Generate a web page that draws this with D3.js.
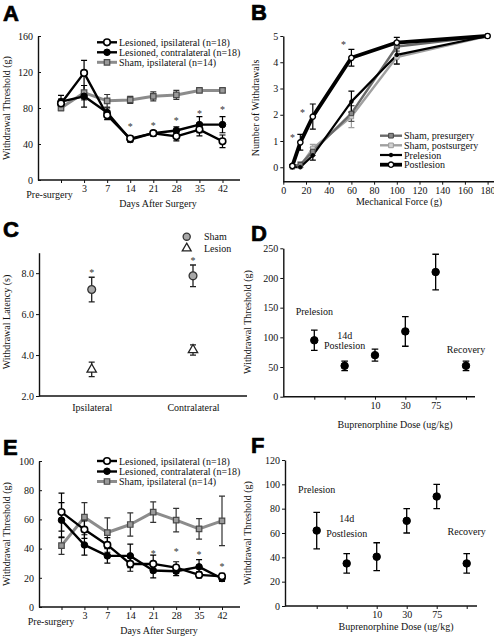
<!DOCTYPE html>
<html><head><meta charset="utf-8">
<script src="https://cdn.jsdelivr.net/npm/d3@7"></script>
<style>
body{margin:0;background:#fff}
svg{display:block}
</style></head><body>
<svg id="c" width="494" height="636"></svg>
<script>
// ---------- DATA ----------
const days = ["Pre-surgery","3","7","14","21","28","35","42"];
const dayIdx = [0,1,2,3,4,5,6,7];
// Panel A
const aIpsi = [85,119,72,46,52,48.5,56,43];
const aIpsiErr = [5,14,5,3,3,5,7,7];
const aContra = [87,93,75,45,52,55,61.5,61.5];
const aContraErr = [7,12,5,3,3,4,9,9];
const aSham = [80,97,88,89,93,94.5,99.5,99.5];
const aShamErr = [3,8,7,4,5,5,2,2];
const aStarIdx = [3,4,5,6,7];
const aStarVal = [61,62,68,76,80];
const aTicks = [0,40,80,120,160];
// Panel B
const force = [8,15,26,60,100,180];
const bShamPre = [0.05,0.1,0.6,2.05,4.6,5.0];
const bShamPreErr = [0.05,0.1,0.15,0.3,0.2,0];
const bShamPost = [0,0.05,0.72,1.93,4.2,5.0];
const bShamPostErr = [0,0.05,0.15,0.42,0.25,0];
const bPre = [0,0,0.45,2.5,4.28,5.0];
const bPreErr = [0,0,0.18,0.4,0.35,0];
const bPost = [0.05,0.95,1.93,4.17,4.75,5.0];
const bPostErr = [0.05,0.3,0.48,0.32,0.2,0];
const bStarForce = [8,17,53];
const bStarVal = [1.2,2.15,4.74];
const bXTicks = [0,20,40,60,80,100,120,140,160,180];
const bYTicks = [0,1,2,3,4,5];
// Panel C
const cCats = ["Ipsilateral","Contralateral"];
const cSham = [7.2,7.87];
const cShamErr = [0.6,0.53];
const cLesion = [3.3,4.25];
const cLesionErr = [0.35,0.25];
const cStarVal = [8.13,8.68];
const cTicks = [2,4,6,8];
// Panel D
const doseLabels = ["","","10","30","75",""];
const dVals = [95,52,70,110,210,52];
const dErr = [17,8,10,25,30,8];
const dTicks = [0,50,100,150,200,250];
const dNotes = ["Prelesion","14d","Postlesion","Recovery"];
const dNoteIdx = [0,1,1,5];
const dNoteVal = [137,97,81,73];
// Panel E
const eIpsi = [65,53,42.5,29.5,29.5,27,22,21];
const eIpsiErr = [13,6,5,5,6,4,2,2];
const eContra = [59.5,42.5,35,35,25,24.5,27.5,19.5];
const eContraErr = [12,7,5,8,5,3,5,2];
const eSham = [42,61.5,51,56.5,65,59.5,53.5,59];
const eShamErr = [6,10,10,8,7,8,7,17];
const eStarIdx = [4,5,6,7];
const eStarVal = [38,39,37,29];
const eTicks = [0,20,40,60,80,100];
// Panel F
const fVals = [62,35,40.5,70,90,35];
const fErr = [15,8,11.5,10,10,8];
const fTicks = [0,20,40,60,80,100,120];
const fNoteVal = [93,69,56.5,58];
// legends
const legAB = ["Lesioned, ipsilateral (n=18)","Lesioned, contralateral (n=18)","Sham, ipsilateral (n=14)"];
const legB = ["Sham, presurgery","Sham, postsurgery","Prelesion","Postlesion"];
const legC = ["Sham","Lesion"];

// ---------- HELPERS ----------
const SERIF = "Liberation Serif";
const SANS = "Liberation Sans";
const svg = d3.select("#c");

function styleAxis(s){
  s.attr("font-family",SERIF).attr("font-size",10);
  s.selectAll("text").attr("fill","#111").attr("font-family",SERIF);
  s.selectAll(".tick line").attr("stroke","#111").attr("stroke-width",1);
  s.select(".domain").attr("stroke","#111").attr("stroke-width",1.4);
}
function leftAxis(scale,x,ticks,size,fmt){
  const ax = d3.axisLeft(scale).tickValues(ticks).tickSize(size).tickSizeOuter(0).tickPadding(size<0?5:2);
  if(fmt) ax.tickFormat(fmt);
  const s = svg.append("g").attr("transform",`translate(${x},0)`).call(ax);
  styleAxis(s); return s;
}
function bottomAxis(scale,y,ticks,fmt,x0,x1,size=3,pad=2){
  const s = svg.append("g").attr("transform",`translate(0,${y})`)
    .call(d3.axisBottom(scale).tickValues(ticks).tickFormat(fmt).tickSize(size).tickSizeOuter(0).tickPadding(pad));
  s.select(".domain").remove();
  styleAxis(s);
  s.append("line").attr("x1",x0).attr("x2",x1).attr("y1",0).attr("y2",0)
    .attr("stroke","#111").attr("stroke-width",1.4);
  return s;
}
function line(xs,ys,xS,yS,color,w,dash){
  svg.append("path").datum(d3.range(xs.length))
    .attr("d",d3.line().x(i=>xS(xs[i])).y(i=>yS(ys[i])))
    .attr("fill","none").attr("stroke",color).attr("stroke-width",w)
    .attr("stroke-linejoin","round").attr("stroke-dasharray",dash||null);
}
function errs(xs,ys,es,xS,yS,color,w,cap){
  svg.append("g").selectAll("path").data(d3.range(xs.length).filter(i=>es[i]>0)).join("path")
    .attr("d",i=>{const x=xS(xs[i]),a=yS(ys[i]+es[i]),b=yS(ys[i]-es[i]);
      return `M${x},${a}V${b}M${x-cap},${a}H${x+cap}M${x-cap},${b}H${x+cap}`;})
    .attr("fill","none").attr("stroke",color).attr("stroke-width",w);
}
function marks(xs,ys,xS,yS,shape,size,fill,stroke,sw){
  const sym = shape==="circle"?d3.symbolCircle:shape==="square"?d3.symbolSquare:d3.symbolTriangle;
  svg.append("g").selectAll("path").data(d3.range(xs.length)).join("path")
    .attr("transform",i=>`translate(${xS(xs[i])},${yS(ys[i])})`)
    .attr("d",d3.symbol(sym,size))
    .attr("fill",fill).attr("stroke",stroke).attr("stroke-width",sw);
}
function stars(xs,ys,xS,yS){
  svg.append("g").selectAll("text").data(d3.range(xs.length)).join("text")
    .attr("x",i=>xS(xs[i])).attr("y",i=>yS(ys[i])+5)
    .attr("text-anchor","middle").attr("font-family",SERIF).attr("font-size",10)
    .attr("fill","#333").text("*");
}
function txt(x,y,t,opt={}){
  const e = svg.append("text").attr("x",x).attr("y",y).text(t)
    .attr("font-family",opt.font||SERIF).attr("font-size",opt.size||10)
    .attr("text-anchor",opt.anchor||"start").attr("fill",opt.fill||"#111");
  return e;
}
function ytitle(x,y,t){
  svg.append("text").attr("transform",`translate(${x},${y}) rotate(-90)`)
    .attr("text-anchor","middle").attr("font-family",SERIF).attr("font-size",10)
    .attr("fill","#111").text(t);
}
function letter(x,y,t){
  svg.append("text").attr("x",x).attr("y",y).text(t).attr("font-family",SANS)
    .attr("font-weight","bold").attr("font-size",22).attr("fill","#000")
    .attr("stroke","#000").attr("stroke-width",0.7);
}
const GREY="#8c8c8c", SQF="#9a9a9a", SQS="#4a4a4a";

function timeCourse(xS,yS,ipsi,ipsiE,contra,contraE,sham,shamE,legY){
  line(dayIdx,sham,xS,yS,GREY,3);
  errs(dayIdx,sham,shamE,xS,yS,"#333",1.2,3);
  line(dayIdx,contra,xS,yS,"#000",2.4);
  errs(dayIdx,contra,contraE,xS,yS,"#000",1.2,3);
  line(dayIdx,ipsi,xS,yS,"#000",2.4);
  errs(dayIdx,ipsi,ipsiE,xS,yS,"#000",1.2,3);
  marks(dayIdx,sham,xS,yS,"square",30,SQF,SQS,1.2);
  marks(dayIdx,contra,xS,yS,"circle",34,"#000","#000",1);
  marks(dayIdx,ipsi,xS,yS,"circle",34,"#fff","#000",1.6);
  const lx0=97, lx1=117, lm=107;
  const cols=["#000","#000",GREY], ws=[2.4,2.4,3];
  legAB.forEach((t,i)=>{
    const y=legY[i];
    svg.append("line").attr("x1",lx0).attr("x2",lx1).attr("y1",y).attr("y2",y)
      .attr("stroke",cols[i]).attr("stroke-width",ws[i]);
    txt(119,y+3.5,t);
  });
  const ly=d3.scaleLinear().domain([0,2]).range([legY[0],legY[2]]);
  const lxS=d3.scaleLinear().domain([0,1]).range([lm,lm+1]);
  marks([0],[0],lxS,ly,"circle",34,"#fff","#000",1.6);
  marks([0],[1],lxS,ly,"circle",34,"#000","#000",1);
  marks([0],[2],lxS,ly,"square",30,SQF,SQS,1.2);
}

// ---------- PANEL A ----------
const xA = d3.scaleLinear().domain([0,7]).range([61,222.5]);
const yA = d3.scaleLinear().domain([0,160]).range([180,36]);
leftAxis(yA,38,aTicks,-3);
bottomAxis(xA,180,dayIdx,i=>i?days[i]:"",38,240);
timeCourse(xA,yA,aIpsi,aIpsiErr,aContra,aContraErr,aSham,aShamErr,[42.3,52.3,62.3]);
stars(aStarIdx,aStarVal,xA,yA);
txt(49.5,197.5,days[0],{anchor:"middle"});
txt(158,207,"Days After Surgery",{anchor:"middle"});
ytitle(10,108,"Withdrawal Threshold (g)");
letter(3,21,"A");

// ---------- PANEL B ----------
const xB = d3.scaleLinear().domain([0,180]).range([283.3,487.6]);
const yB = d3.scaleLinear().domain([-0.55,5]).range([181.7,36]);
leftAxis(yB,283.3,bYTicks,3,d3.format("d"));
bottomAxis(xB,181.7,bXTicks,d=>d,283.3,494);
line(force,bShamPost,xB,yB,"#a0a0a0",2.4);
errs(force,bShamPost,bShamPostErr,xB,yB,"#a0a0a0",1.2,3);
line(force,bShamPre,xB,yB,"#6a6a6a",2.4);
errs(force,bShamPre,bShamPreErr,xB,yB,"#555",1.2,3);
line(force,bPre,xB,yB,"#000",2.2);
errs(force,bPre,bPreErr,xB,yB,"#000",1.2,3);
line(force,bPost,xB,yB,"#000",3.8);
errs(force,bPost,bPostErr,xB,yB,"#000",1.2,3);
marks(force,bShamPost,xB,yB,"square",20,"#d0d0d0","#9a9a9a",1);
marks(force,bShamPre,xB,yB,"square",20,"#888","#444",1);
marks(force,bPre,xB,yB,"circle",10,"#000","#000",1);
marks(force,bPost,xB,yB,"circle",22,"#fff","#000",1.4);
stars(bStarForce,bStarVal,xB,yB);
{
  const rows=[135.7,145.3,155,164.7];
  const cols=["#6a6a6a","#a0a0a0","#000","#000"], ws=[2.4,2.4,2.2,3.8];
  legB.forEach((t,i)=>{
    svg.append("line").attr("x1",380).attr("x2",402).attr("y1",rows[i]).attr("y2",rows[i])
      .attr("stroke",cols[i]).attr("stroke-width",ws[i]);
    txt(404,rows[i]+3.5,t);
  });
  const ly=d3.scaleLinear().domain([0,3]).range([rows[0],rows[3]]);
  const lx=d3.scaleLinear().domain([0,1]).range([391,392]);
  marks([0],[0],lx,ly,"square",22,"#888","#444",1);
  marks([0],[1],lx,ly,"square",22,"#d0d0d0","#9a9a9a",1);
  marks([0],[2],lx,ly,"circle",10,"#000","#000",1);
  marks([0],[3],lx,ly,"circle",22,"#fff","#000",1.4);
}
txt(399,204.5,"Mechanical Force (g)",{anchor:"middle"});
ytitle(259,108,"Number of Withdrawals");
letter(251,20,"B");

// ---------- PANEL C ----------
const xC = d3.scaleLinear().domain([0,1]).range([91.7,193]);
const yC = d3.scaleLinear().domain([2,9]).range([396,252.7]);
leftAxis(yC,39,cTicks,3);
bottomAxis(xC,396,[0,1],i=>cCats[i],39,247,0,8);
errs([0,1],cSham,cShamErr,xC,yC,"#222",1.3,3);
errs([0,1],cLesion,cLesionErr,xC,yC,"#222",1.3,3);
marks([0,1],cSham,xC,yC,"circle",48,"#a8a8a8","#333",1.3);
marks([0,1],cLesion,xC,yC,"triangle",38,"#fff","#222",1.3);
stars([0,1],cStarVal,xC,yC);
{
  const ly=d3.scaleLinear().domain([0,1]).range([236.7,248.3]);
  const lx=d3.scaleLinear().domain([0,1]).range([186.7,187.7]);
  marks([0],[0],lx,ly,"circle",40,"#a8a8a8","#333",1.3);
  marks([0],[1],lx,ly,"triangle",34,"#fff","#222",1.3);
  txt(204,240.2,legC[0]); txt(204,251.8,legC[1]);
}
ytitle(10,322,"Withdrawal Latency (s)");
letter(3,237,"C");

// ---------- PANEL D ----------
const xD = d3.scaleLinear().domain([0,5]).range([314.3,466]);
const yD = d3.scaleLinear().domain([0,250]).range([396.7,248.3]);
leftAxis(yD,283.3,dTicks,3);
bottomAxis(xD,396.7,d3.range(6),i=>doseLabels[i],283.3,475);
errs(d3.range(6),dVals,dErr,xD,yD,"#000",1.3,3.3);
marks(d3.range(6),dVals,xD,yD,"circle",44,"#000","#000",1);
dNotes.forEach((t,i)=>txt(xD(dNoteIdx[i]),yD(dNoteVal[i]),t,{anchor:"middle"}));
txt(395,428,"Buprenorphine Dose (ug/kg)",{anchor:"middle"});
ytitle(251,322,"Withdrawal Threshold (g)");
letter(251,241,"D");

// ---------- PANEL E ----------
const xE = d3.scaleLinear().domain([0,7]).range([61.5,222]);
const yE = d3.scaleLinear().domain([0,100]).range([607,461]);
leftAxis(yE,39,eTicks,-3);
bottomAxis(xE,607,dayIdx,i=>i?days[i]:"",39,240);
timeCourse(xE,yE,eIpsi,eIpsiErr,eContra,eContraErr,eSham,eShamErr,[461,471.5,481.5]);
stars(eStarIdx,eStarVal,xE,yE);
txt(51,624.5,days[0],{anchor:"middle"});
txt(159,634,"Days After Surgery",{anchor:"middle"});
ytitle(10,534,"Withdrawal Threshold (g)");
letter(3,455,"E");

// ---------- PANEL F ----------
const xF = d3.scaleLinear().domain([0,5]).range([316.7,466.7]);
const yF = d3.scaleLinear().domain([0,120]).range([606,460]);
leftAxis(yF,285,fTicks,3);
bottomAxis(xF,606,d3.range(6),i=>doseLabels[i],285,477);
errs(d3.range(6),fVals,fErr,xF,yF,"#000",1.3,3.3);
marks(d3.range(6),fVals,xF,yF,"circle",44,"#000","#000",1);
dNotes.forEach((t,i)=>txt(xF(dNoteIdx[i]),yF(fNoteVal[i]),t,{anchor:"middle"}));
txt(396,630,"Buprenorphine Dose (ug/kg)",{anchor:"middle"});
ytitle(251,533,"Withdrawal Threshold (g)");
letter(251,453,"F");
</script>
</body></html>
